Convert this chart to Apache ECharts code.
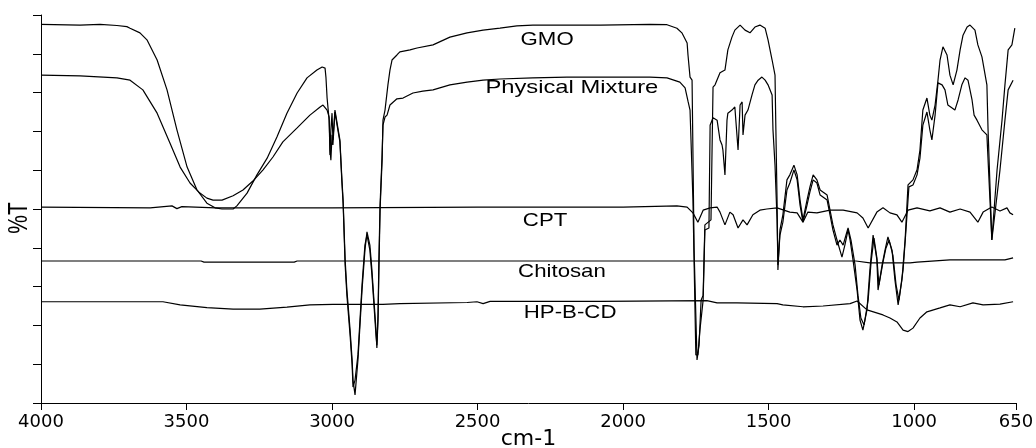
<!DOCTYPE html>
<html>
<head>
<meta charset="utf-8">
<script src="https://cdn.jsdelivr.net/npm/echarts@6/dist/echarts.min.js"></script>
<style>
  html, body { margin: 0; padding: 0; background: #fff; }
  #chart { width: 1036px; height: 448px; }
</style>
</head>
<body>
<div id="chart"></div>
<script>
// wavenumber ticks (cm-1)
var xTicks = [4000, 3500, 3000, 2500, 2000, 1500, 1000, 650];

// spectra: [wavenumber, %T]
var gmo = [
  [4000,97.6],[3866,97.4],[3797,97.6],[3739,97.3],[3705,97.0],[3694,96.6],[3660,95.4],[3636,93.6],[3601,88.4],[3567,80.7],
  [3533,70.4],[3498,60.8],[3464,54.9],[3430,51.5],[3402,50.3],[3378,50.0],[3340,50.0],[3327,50.8],[3292,54.1],[3258,58.8],
  [3223,63.1],[3189,68.6],[3155,74.7],[3120,79.9],[3086,83.8],[3052,85.8],[3034,86.6],[3024,86.3],[3021,84.0],[3017,78.6],
  [3010,72.9],[3007,63.9],[3004,70.4],[3000,74.7],[2997,67.8],[2990,75.5],[2980,70.9],[2973,67.8],[2966,57.5],[2962,52.3],
  [2955,36.9],[2949,29.1],[2938,18.8],[2931,11.1],[2928,5.9],[2921,2.1],[2911,11.1],[2897,29.1],[2887,39.4],[2880,44.1],
  [2870,40.7],[2863,34.3],[2856,26.5],[2849,18.8],[2846,14.2],[2842,21.4],[2839,34.3],[2835,49.7],[2828,62.6],[2825,72.9],
  [2818,75.5],[2808,82.0],[2801,85.8],[2794,88.4],[2777,89.7],[2767,90.5],[2732,91.0],[2708,91.5],[2653,92.3],[2595,94.3],
  [2536,95.4],[2481,96.1],[2423,96.6],[2365,97.2],[2310,97.4],[2077,97.4],[1908,97.6],[1849,97.5],[1815,96.6],[1798,95.4],
  [1780,92.8],[1777,89.7],[1770,84.0],[1763,83.2],[1756,39.4],[1746,11.1],[1739,14.9],[1732,26.5],[1725,27.8],[1719,45.9],
  [1698,47.2],[1691,81.4],[1684,82.0],[1667,85.1],[1650,85.8],[1640,91.0],[1626,94.3],[1616,96.1],[1598,97.4],[1581,96.1],
  [1564,95.4],[1547,96.9],[1530,97.4],[1512,96.6],[1502,93.6],[1488,88.4],[1478,84.5],[1475,70.4],[1471,52.3],[1468,34.3],
  [1461,44.6],[1451,48.5],[1437,57.5],[1427,58.8],[1413,61.3],[1402,58.8],[1392,52.3],[1382,47.2],[1368,52.3],[1358,55.7],
  [1347,58.8],[1334,57.5],[1323,54.9],[1299,53.6],[1289,49.7],[1279,45.9],[1265,42.0],[1255,39.4],[1248,37.6],[1238,40.7],
  [1227,44.6],[1220,42.0],[1210,36.9],[1196,29.1],[1186,21.4],[1176,18.8],[1162,24.0],[1152,34.3],[1141,43.3],[1128,36.9],
  [1124,29.1],[1110,35.6],[1100,39.4],[1090,42.8],[1076,39.4],[1066,31.7],[1055,25.3],[1042,31.7],[1031,42.0],[1021,56.2],
  [1004,57.5],[990,60.1],[980,65.2],[970,75.5],[956,78.6],[946,74.2],[939,72.9],[928,76.8],[918,83.2],[911,88.4],
  [901,91.8],[887,89.7],[877,84.5],[866,82.0],[853,85.8],[842,91.0],[832,94.8],[818,96.9],[808,97.4],[791,96.1],
  [781,92.3],[767,89.2],[750,82.0],[746,70.4],[733,42.0],[715,60.1],[698,72.9],[688,82.0],[677,91.0],[664,92.3],[654,96.6]
];

var physMix = [
  [4000,84.5],[3866,84.3],[3739,83.8],[3694,83.2],[3650,80.7],[3601,74.7],[3557,67.0],[3522,60.8],[3488,56.7],[3454,54.1],
  [3430,52.8],[3409,52.3],[3378,52.3],[3340,53.4],[3306,54.9],[3272,57.2],[3237,60.1],[3203,63.4],[3169,67.3],[3120,70.9],
  [3076,74.2],[3041,76.3],[3031,76.8],[3017,75.5],[3010,73.7],[3007,65.2],[3004,62.6],[3000,69.1],[2997,66.5],[2990,75.0],
  [2980,70.4],[2973,67.3],[2966,56.7],[2962,51.5],[2955,35.6],[2949,27.8],[2938,17.5],[2931,9.8],[2928,4.1],[2921,5.9],
  [2911,12.4],[2897,30.4],[2887,40.7],[2880,43.3],[2870,39.4],[2863,33.0],[2856,25.3],[2849,17.5],[2846,14.9],[2842,22.7],
  [2839,36.9],[2835,51.0],[2828,63.9],[2825,71.6],[2818,73.7],[2811,74.2],[2801,76.8],[2777,78.4],[2756,78.6],[2722,79.9],
  [2688,80.4],[2653,80.7],[2595,82.0],[2536,82.7],[2481,83.2],[2423,83.5],[2310,83.8],[2193,84.0],[1908,84.0],[1849,83.8],
  [1805,82.7],[1787,81.2],[1777,77.8],[1770,75.5],[1760,52.3],[1750,12.4],[1743,12.4],[1736,18.8],[1725,26.5],[1719,44.6],
  [1705,45.1],[1701,71.6],[1691,73.5],[1677,72.9],[1667,67.8],[1660,66.5],[1657,65.2],[1650,58.8],[1643,72.9],[1640,74.7],
  [1626,75.5],[1616,76.3],[1605,65.2],[1598,76.8],[1591,77.6],[1588,69.1],[1581,74.2],[1571,75.5],[1557,79.4],[1547,82.0],
  [1536,83.2],[1523,84.0],[1512,83.2],[1502,82.0],[1488,79.4],[1485,70.4],[1478,61.3],[1471,47.2],[1468,35.6],[1461,43.3],
  [1451,46.6],[1437,54.9],[1427,56.7],[1413,60.1],[1402,57.5],[1392,51.0],[1382,46.6],[1368,51.0],[1358,54.4],[1347,57.5],
  [1334,56.7],[1323,53.6],[1299,52.3],[1289,48.5],[1279,44.6],[1265,40.7],[1255,42.0],[1244,40.7],[1234,43.3],[1227,45.1],
  [1217,42.0],[1203,35.6],[1193,27.8],[1183,21.9],[1172,20.1],[1158,26.5],[1148,36.3],[1138,42.5],[1128,37.4],[1121,30.4],
  [1107,36.3],[1097,39.9],[1086,42.0],[1073,38.1],[1062,30.4],[1052,26.5],[1038,34.3],[1028,44.6],[1018,55.7],[1004,56.2],
  [990,58.8],[980,63.1],[970,71.6],[956,75.0],[946,70.4],[939,67.8],[928,74.2],[918,82.5],[904,82.0],[894,80.7],
  [884,76.8],[860,75.5],[849,78.1],[836,82.0],[825,83.8],[815,83.2],[801,78.1],[794,74.2],[784,72.9],[767,70.4],
  [750,69.1],[733,42.0],[705,60.1],[688,72.9],[677,80.7],[660,83.2]
];

var cpt = [
  [4000,50.5],[3625,50.3],[3550,50.8],[3533,50.1],[3516,50.6],[3400,50.3],[3000,50.3],[2500,50.5],[2000,50.5],[1815,50.8],
  [1780,50.5],[1760,49.0],[1743,46.6],[1725,49.7],[1701,50.3],[1677,50.5],[1667,49.2],[1650,45.9],[1633,49.2],[1622,48.5],
  [1605,45.1],[1588,47.2],[1574,45.9],[1554,48.5],[1530,49.7],[1506,50.0],[1471,50.3],[1427,49.2],[1402,49.0],[1382,46.6],
  [1365,49.2],[1334,49.0],[1289,49.7],[1244,49.7],[1196,49.0],[1176,47.7],[1158,45.1],[1128,49.2],[1107,50.3],[1083,49.0],
  [1059,48.5],[1042,46.6],[1021,49.7],[990,50.3],[946,49.5],[911,50.3],[877,49.2],[842,50.0],[808,49.2],[781,46.6],
  [763,49.2],[733,50.5],[705,49.5],[681,50.3],[671,49.0],[660,48.5]
];

var chitosan = [
  [4000,36.6],[3450,36.6],[3440,36.3],[3130,36.3],[3120,36.6],[1200,36.6],[1152,36.1],[1014,36.1],[990,36.3],[877,36.9],
  [688,36.9],[660,37.4]
];

var hpbcd = [
  [4000,26.1],[3581,26.1],[3522,25.3],[3430,24.6],[3340,24.2],[3248,24.2],[3155,24.7],[3076,25.3],[2997,25.4],[2825,25.4],
  [2767,25.6],[2536,25.9],[2502,26.1],[2481,25.6],[2457,26.2],[2077,26.2],[1712,26.4],[1677,25.8],[1609,25.8],[1471,25.6],
  [1451,25.3],[1382,24.8],[1313,25.0],[1220,25.6],[1196,26.3],[1162,24.0],[1107,22.7],[1083,21.9],[1059,20.9],[1038,18.8],
  [1021,18.4],[1004,19.3],[980,21.9],[956,23.5],[911,24.5],[877,25.3],[842,24.8],[798,25.8],[763,25.3],[705,25.5],[660,26.1]
];

// trace labels and where they sit
var labelNames = ['GMO', 'Physical Mixture', 'CPT', 'Chitosan', 'HP-B-CD'];
var labelWave = [2261, 2176, 2268, 2210, 2182];
var labelT = [93.6, 81.2, 46.9, 33.9, 23.2];

var chart = echarts.init(document.getElementById('chart'));

function trace(name, data) {
  return {
    name: name,
    type: 'line',
    data: data,
    showSymbol: false,
    silent: true,
    lineStyle: { color: '#000', width: 1.2 }
  };
}

chart.setOption({
  animation: false,
  grid: { left: 41, right: 20, top: 15, bottom: 45, containLabel: false, outerBoundsMode: 'none' },
  xAxis: {
    type: 'value',
    inverse: true,
    min: 650,
    max: 4000,
    name: 'cm-1',
    nameLocation: 'middle',
    nameGap: 25,
    nameMoveOverlap: false,
    nameTextStyle: { fontFamily: 'DejaVu Sans', fontSize: 22, color: '#000' },
    axisLine: { lineStyle: { color: '#000', width: 1 } },
    axisTick: { length: 7, lineStyle: { color: '#000' }, customValues: xTicks },
    axisLabel: {
      fontFamily: 'DejaVu Sans', fontSize: 18, color: '#000', margin: 10, customValues: xTicks,
      formatter: function (v) { return String(v); }
    },
    splitLine: { show: false }
  },
  yAxis: {
    type: 'value',
    min: 0,
    max: 100,
    interval: 10,
    axisLine: { show: true, lineStyle: { color: '#000', width: 1 } },
    axisTick: { show: true, length: 8, lineStyle: { color: '#000' } },
    axisLabel: { show: false },
    splitLine: { show: false }
  },
  series: [
    trace('GMO', gmo),
    trace('Physical Mixture', physMix),
    trace('CPT', cpt),
    trace('Chitosan', chitosan),
    trace('HP-B-CD', hpbcd)
  ]
});

// put the trace names on at their data positions
var texts = labelNames.map(function (n, i) {
  var p = chart.convertToPixel({ gridIndex: 0 }, [labelWave[i], labelT[i]]);
  return {
    type: 'text',
    x: p[0],
    y: p[1],
    scaleX: n === 'Physical Mixture' ? 1.25 : 1.17,
    silent: true,
    style: {
      text: n,
      fill: '#000',
      font: '19px "Liberation Sans", Arial, sans-serif',
      textAlign: 'center',
      textVerticalAlign: 'middle'
    }
  };
});

// y axis title, turned to read upwards
texts.push({
  type: 'text',
  x: 19,
  y: 218,
  rotation: Math.PI / 2,
  scaleY: 1.3,
  silent: true,
  style: {
    text: '%T',
    fill: '#000',
    font: '21px "Liberation Sans", Arial, sans-serif',
    textAlign: 'center',
    textVerticalAlign: 'middle'
  }
});
chart.setOption({ graphic: texts });
</script>
</body>
</html>
